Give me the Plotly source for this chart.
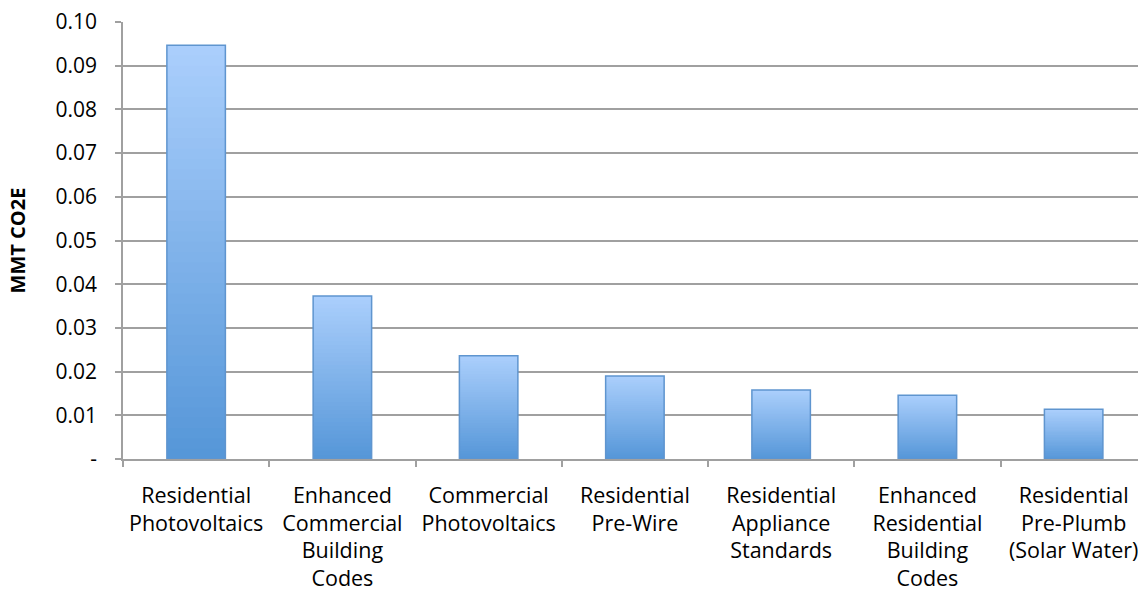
import plotly.graph_objects as go

categories = [
    "Residential<br>Photovoltaics",
    "Enhanced<br>Commercial<br>Building<br>Codes",
    "Commercial<br>Photovoltaics",
    "Residential<br>Pre-Wire",
    "Residential<br>Appliance<br>Standards",
    "Enhanced<br>Residential<br>Building<br>Codes",
    "Residential<br>Pre-Plumb<br>(Solar Water)",
]
values = [0.0947, 0.0373, 0.0236, 0.0190, 0.0158, 0.0146, 0.0114]
y_tickvals = [0, 0.01, 0.02, 0.03, 0.04, 0.05, 0.06, 0.07, 0.08, 0.09, 0.10]
y_ticktext = ["-", "0.01", "0.02", "0.03", "0.04", "0.05", "0.06", "0.07", "0.08", "0.09", "0.10"]

FONT = "Open Sans"
BAR_W = 0.40
N = 40
bottom_rgb = (0x55, 0x96, 0xd8)
top_rgb = (0xab, 0xcf, 0xfc)

fig = go.Figure()
for k in range(N):
    t = (k + 0.5) / N
    c = tuple(round(bottom_rgb[i] + (top_rgb[i] - bottom_rgb[i]) * t) for i in range(3))
    ext = 1.6 if k < N - 1 else 1.0
    fig.add_trace(go.Bar(
        x=categories,
        y=[v / N * ext for v in values],
        base=[v * k / N for v in values],
        width=BAR_W,
        marker=dict(color="rgb(%d,%d,%d)" % c, line=dict(width=0)),
        hoverinfo="skip",
        showlegend=False,
    ))
fig.add_trace(go.Bar(
    x=categories,
    y=values,
    width=BAR_W,
    marker=dict(color="rgba(0,0,0,0)", line=dict(color="#5f95cf", width=1.5)),
    showlegend=False,
))

fig.update_layout(
    barmode="overlay",
    width=1138, height=593,
    margin=dict(l=123, r=0, t=22, b=134),
    paper_bgcolor="white", plot_bgcolor="white",
    font=dict(family=FONT, size=21, color="black"),
    xaxis=dict(
        type="category",
        range=[-0.5, 6.44],
        tickson="boundaries",
        ticks="outside", ticklen=6, tickcolor="#a0a0a0", tickwidth=1.5,
        showline=True, linecolor="#a0a0a0", linewidth=1.5,
        showgrid=False,
        tickfont=dict(family=FONT, size=21.5),
        ticklabelstandoff=16,
    ),
    yaxis=dict(
        range=[0, 0.10],
        tickvals=y_tickvals, ticktext=y_ticktext,
        ticks="outside", ticklen=6, tickcolor="#a0a0a0", tickwidth=1.5,
        showline=True, linecolor="#a0a0a0", linewidth=1.5,
        showgrid=True, gridcolor="#a0a0a0", gridwidth=1.5,
        zeroline=False,
        tickfont=dict(family=FONT, size=21),
        ticklabelstandoff=14,
        title=dict(text="<b>MMT CO2E</b>", font=dict(family=FONT, size=20), standoff=25),
    ),
)

fig.write_html("out.html")
